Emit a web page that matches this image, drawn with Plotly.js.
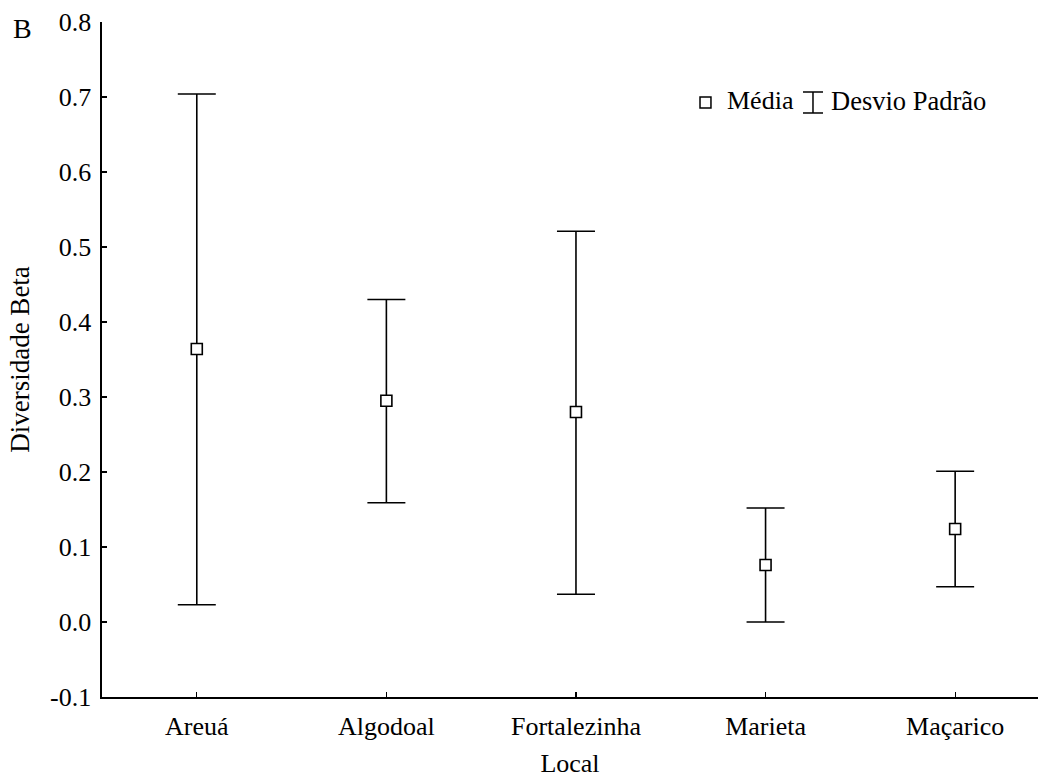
<!DOCTYPE html>
<html>
<head>
<meta charset="utf-8">
<script src="https://cdn.plot.ly/plotly-3.0.1.min.js"></script>
<style>html,body{margin:0;padding:0;background:#fff;}#chart{width:1038px;height:778px;}</style>
</head>
<body>
<div id="chart"></div>
<script>
const locais = ["Areuá", "Algodoal", "Fortalezinha", "Marieta", "Maçarico"];
const media = [0.364, 0.295, 0.280, 0.076, 0.124];
const limiteSuperior = [0.704, 0.430, 0.521, 0.152, 0.201];
const limiteInferior = [0.023, 0.159, 0.037, 0.000, 0.047];
const yTicks = [-0.1, 0.0, 0.1, 0.2, 0.3, 0.4, 0.5, 0.6, 0.7, 0.8];

const errPlus = media.map((m, i) => limiteSuperior[i] - m);
const errMinus = media.map((m, i) => m - limiteInferior[i]);

const FONT = "'Liberation Serif', 'Times New Roman', Times, serif";

const trace = {
  type: "scatter",
  mode: "markers",
  x: locais,
  y: media,
  marker: {symbol: "square", size: 11, color: "#fff", line: {color: "#000", width: 1.6}},
  error_y: {type: "data", symmetric: false, array: errPlus, arrayminus: errMinus,
            color: "#000", thickness: 1.6, width: 19},
  showlegend: false,
  hoverinfo: "skip"
};

const layout = {
  width: 1038, height: 778,
  margin: {l: 102, r: 0, t: 22, b: 81},
  paper_bgcolor: "#fff", plot_bgcolor: "#fff",
  font: {family: FONT, size: 26, color: "#000"},
  showlegend: false,
  xaxis: {
    type: "category",
    range: [-0.5, 4.437],
    showgrid: false, zeroline: false,
    showline: true, linecolor: "#000", linewidth: 1.6,
    ticks: "inside", ticklen: 5, tickwidth: 1.3, tickcolor: "#000",
    tickfont: {family: FONT, size: 26},
    ticklabelstandoff: 5,
    title: {text: "Local", font: {family: FONT, size: 26}, standoff: 15},
    fixedrange: true
  },
  yaxis: {
    range: [-0.1, 0.8],
    tickvals: yTicks,
    ticktext: yTicks.map(v => v.toFixed(1)),
    showgrid: false, zeroline: false,
    showline: true, linecolor: "#000", linewidth: 1.6,
    ticks: "inside", ticklen: 5, tickwidth: 1.3, tickcolor: "#000",
    tickfont: {family: FONT, size: 26},
    ticklabelstandoff: 4,
    title: {text: "Diversidade Beta", font: {family: FONT, size: 27}, standoff: 12},
    fixedrange: true
  },
  annotations: [
    {xref: "paper", yref: "paper", x: -0.085, y: 0.99, xanchor: "center", yanchor: "middle",
     text: "B", showarrow: false, font: {family: FONT, size: 28}},
    {xref: "paper", yref: "paper", x: 0.6656, y: 0.883, xanchor: "left", yanchor: "middle",
     text: "Média", showarrow: false, font: {family: FONT, size: 26}},
    {xref: "paper", yref: "paper", x: 0.7768, y: 0.883, xanchor: "left", yanchor: "middle",
     text: "Desvio Padrão", showarrow: false, font: {family: FONT, size: 26.5}}
  ],
  shapes: [
    {type: "rect", xref: "paper", yref: "paper", x0: 0.6389, x1: 0.6506, y0: 0.8726, y1: 0.8889,
     line: {color: "#000", width: 1.5}, fillcolor: "#fff"},
    {type: "line", xref: "paper", yref: "paper", x0: 0.7596, x1: 0.7596, y0: 0.8652, y1: 0.8963,
     line: {color: "#000", width: 1.5}},
    {type: "line", xref: "paper", yref: "paper", x0: 0.7489, x1: 0.7703, y0: 0.8963, y1: 0.8963,
     line: {color: "#000", width: 1.5}},
    {type: "line", xref: "paper", yref: "paper", x0: 0.7489, x1: 0.7703, y0: 0.8652, y1: 0.8652,
     line: {color: "#000", width: 1.5}}
  ]
};

Plotly.newPlot("chart", [trace], layout, {staticPlot: true, displayModeBar: false});
</script>
</body>
</html>
